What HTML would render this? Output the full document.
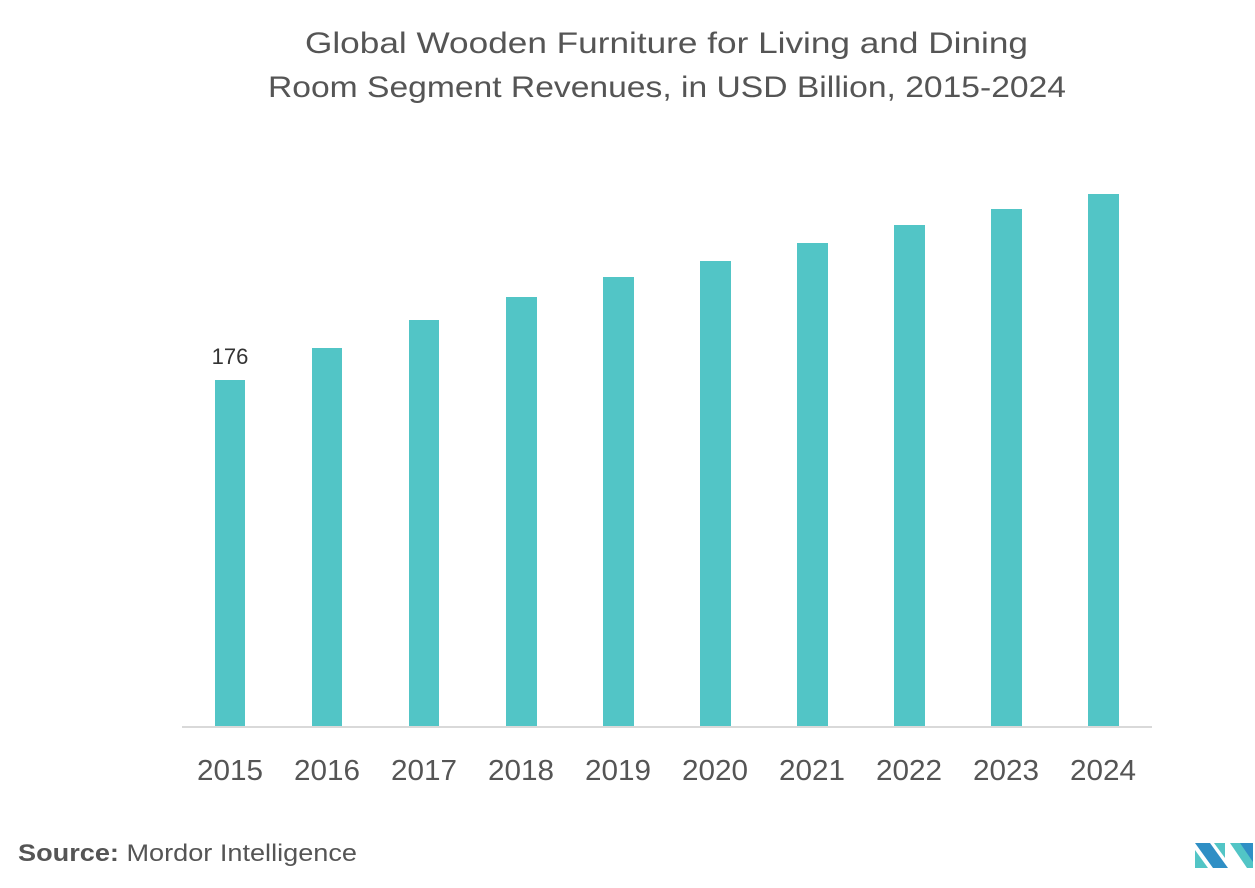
<!DOCTYPE html>
<html><head><style>
body{margin:0;background:#fff;}
svg{display:block;}
</style></head><body>
<svg width="1255" height="888" xmlns="http://www.w3.org/2000/svg" font-family="Liberation Sans, sans-serif">
<text x="305" y="53" font-size="30" fill="#555" textLength="723" lengthAdjust="spacingAndGlyphs">Global Wooden Furniture for Living and Dining</text>
<text x="268" y="97" font-size="30" fill="#555" textLength="798" lengthAdjust="spacingAndGlyphs">Room Segment Revenues, in USD Billion, 2015-2024</text>
<g fill="#52c5c6">
<rect x="215" y="380" width="30" height="347"/>
<rect x="312" y="348" width="30" height="379"/>
<rect x="409" y="320" width="30" height="407"/>
<rect x="506" y="297" width="31" height="430"/>
<rect x="603" y="277" width="31" height="450"/>
<rect x="700" y="261" width="31" height="466"/>
<rect x="797" y="243" width="31" height="484"/>
<rect x="894" y="225" width="31" height="502"/>
<rect x="991" y="209" width="31" height="518"/>
<rect x="1088" y="194" width="31" height="533"/>
</g>
<rect x="182" y="726" width="970" height="2" fill="#d9d9d9"/>
<text x="230" y="364" text-anchor="middle" font-size="22" fill="#333">176</text>
<g font-size="29" fill="#555">
<text x="197" y="780" textLength="66" lengthAdjust="spacingAndGlyphs">2015</text>
<text x="294" y="780" textLength="66" lengthAdjust="spacingAndGlyphs">2016</text>
<text x="391" y="780" textLength="66" lengthAdjust="spacingAndGlyphs">2017</text>
<text x="488" y="780" textLength="66" lengthAdjust="spacingAndGlyphs">2018</text>
<text x="585" y="780" textLength="66" lengthAdjust="spacingAndGlyphs">2019</text>
<text x="682" y="780" textLength="66" lengthAdjust="spacingAndGlyphs">2020</text>
<text x="779" y="780" textLength="66" lengthAdjust="spacingAndGlyphs">2021</text>
<text x="876" y="780" textLength="66" lengthAdjust="spacingAndGlyphs">2022</text>
<text x="973" y="780" textLength="66" lengthAdjust="spacingAndGlyphs">2023</text>
<text x="1070" y="780" textLength="66" lengthAdjust="spacingAndGlyphs">2024</text>
</g>
<text x="18" y="861" font-size="24" fill="#555" textLength="339" lengthAdjust="spacingAndGlyphs"><tspan font-weight="bold">Source:</tspan> Mordor Intelligence</text>
<g>
<polygon points="1195,843 1210,843 1228,868 1213,868" fill="#2f8fc5"/>
<polygon points="1195,850 1195,868 1208,868" fill="#52c5c6"/>
<polygon points="1214,843 1225,843 1225,858" fill="#52c5c6"/>
<polygon points="1230,843 1244,843 1253,856 1253,868 1247,868" fill="#52c5c6"/>
<polygon points="1240,843 1253,843 1253,862" fill="#2f8fc5"/>
</g>
</svg>
</body></html>
